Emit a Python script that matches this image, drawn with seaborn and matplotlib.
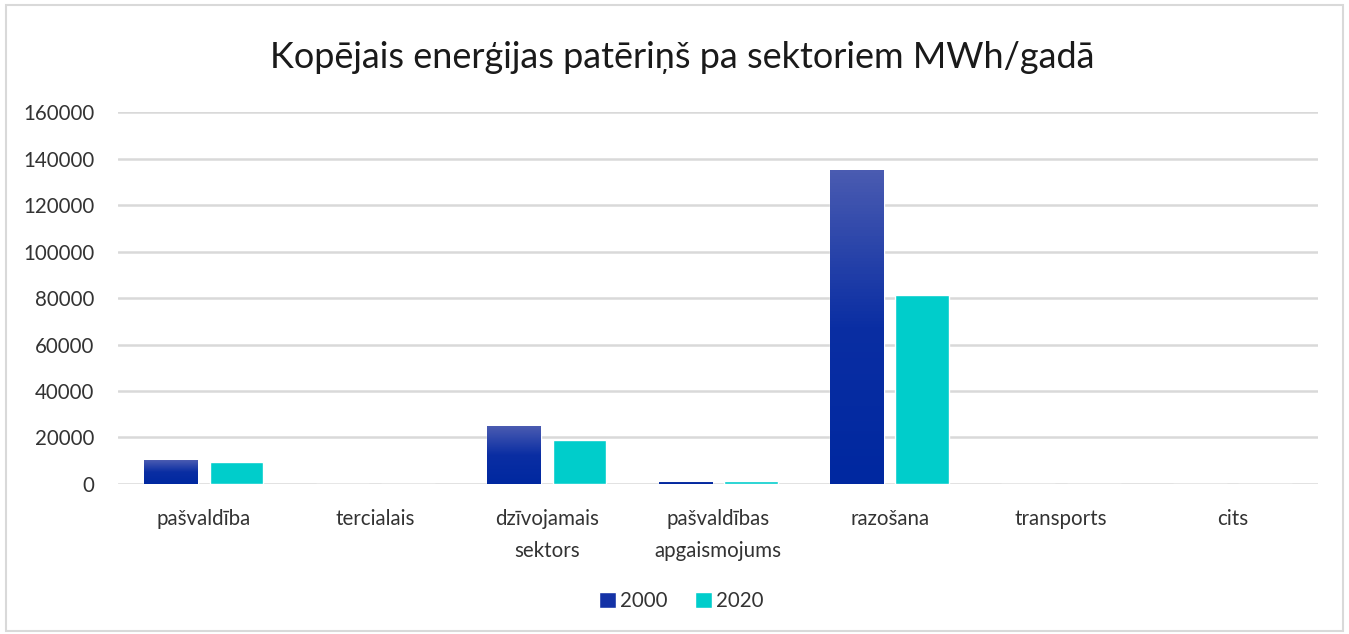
import numpy as np
import pandas as pd
import matplotlib.pyplot as plt
import seaborn as sns
from matplotlib.colors import LinearSegmentedColormap
from matplotlib.patches import Rectangle

sectors = ["pašvaldība", "tercialais", "dzīvojamais\nsektors", "pašvaldības\napgaismojums",
           "razošana", "transports", "cits"]
years = ["2000", "2020"]
values_2000 = [10300, 0, 24900, 900, 135000, 0, 0]
values_2020 = [9300, 0, 19000, 1100, 81400, 0, 0]
yticks = [0, 20000, 40000, 60000, 80000, 100000, 120000, 140000, 160000]

df = pd.DataFrame({
    "sector": sectors * 2,
    "year": [years[0]] * len(sectors) + [years[1]] * len(sectors),
    "value": values_2000 + values_2020,
})

sns.set_style("white")
plt.rcParams["font.family"] = ["Lato", "DejaVu Sans"]
text_color = "#333333"
fs = 14.8

fig = plt.figure(figsize=(13.49, 6.34), dpi=100)
ax = fig.add_axes([0.0875, 0.2366, 0.8897, 0.5867])

sns.barplot(data=df, x="sector", y="value", hue="year", order=sectors,
            palette={"2000": "#1432a6", "2020": "#00cdcb"},
            width=0.764, gap=0.18, ax=ax, zorder=3, saturation=1)

# gradient on the 2000 bars (lighter at top)
grad = LinearSegmentedColormap.from_list("g", ["#0028a0", "#0a2ea3", "#4a5bb1"])
for p in ax.containers[0]:
    h = p.get_height()
    if h <= 0:
        continue
    x0 = p.get_x()
    img = np.linspace(0, 1, 100).reshape(-1, 1)
    im = ax.imshow(img, cmap=grad, origin="lower", aspect="auto",
                   extent=[x0, x0 + p.get_width(), 0, h], zorder=4)
    im.set_clip_path(p)

ax.set_xlim(-0.5, len(sectors) - 0.5)
ax.set_ylim(0, 160000)
ax.set_yticks(yticks)
ax.set_yticklabels([str(v) for v in yticks], fontsize=fs, color=text_color)
ax.set_xticks(range(len(sectors)))
ax.set_xticklabels(sectors, fontsize=fs, color=text_color, linespacing=1.75)
ax.tick_params(axis="y", length=0, pad=17)
ax.tick_params(axis="x", length=0, pad=18)
ax.set_xlabel("")
ax.set_ylabel("")
ax.grid(axis="y", color="#d9d9d9", linewidth=1.8, zorder=0)
for s in ["left", "right", "top", "bottom"]:
    ax.spines[s].set_visible(False)

fig.suptitle("Kopējais enerģijas patēriņš pa sektoriem MWh/gadā", x=0.506, y=0.935,
             fontsize=25.9, color="#1a1a1a")

handles, labels = ax.get_legend_handles_labels()
ax.legend(handles, labels, loc="center", bbox_to_anchor=(0.505, 0.052),
          bbox_transform=fig.transFigure, ncol=2, frameon=False,
          fontsize=fs, handlelength=0.85, handleheight=0.85, handletextpad=0.2,
          columnspacing=1.3, labelcolor=text_color)

fig.patches.append(Rectangle((0.0045, 0.004), 0.991, 0.988, transform=fig.transFigure,
                             fill=False, edgecolor="#d9d9d9", linewidth=1.5))

fig.savefig("out.png", dpi=100)
